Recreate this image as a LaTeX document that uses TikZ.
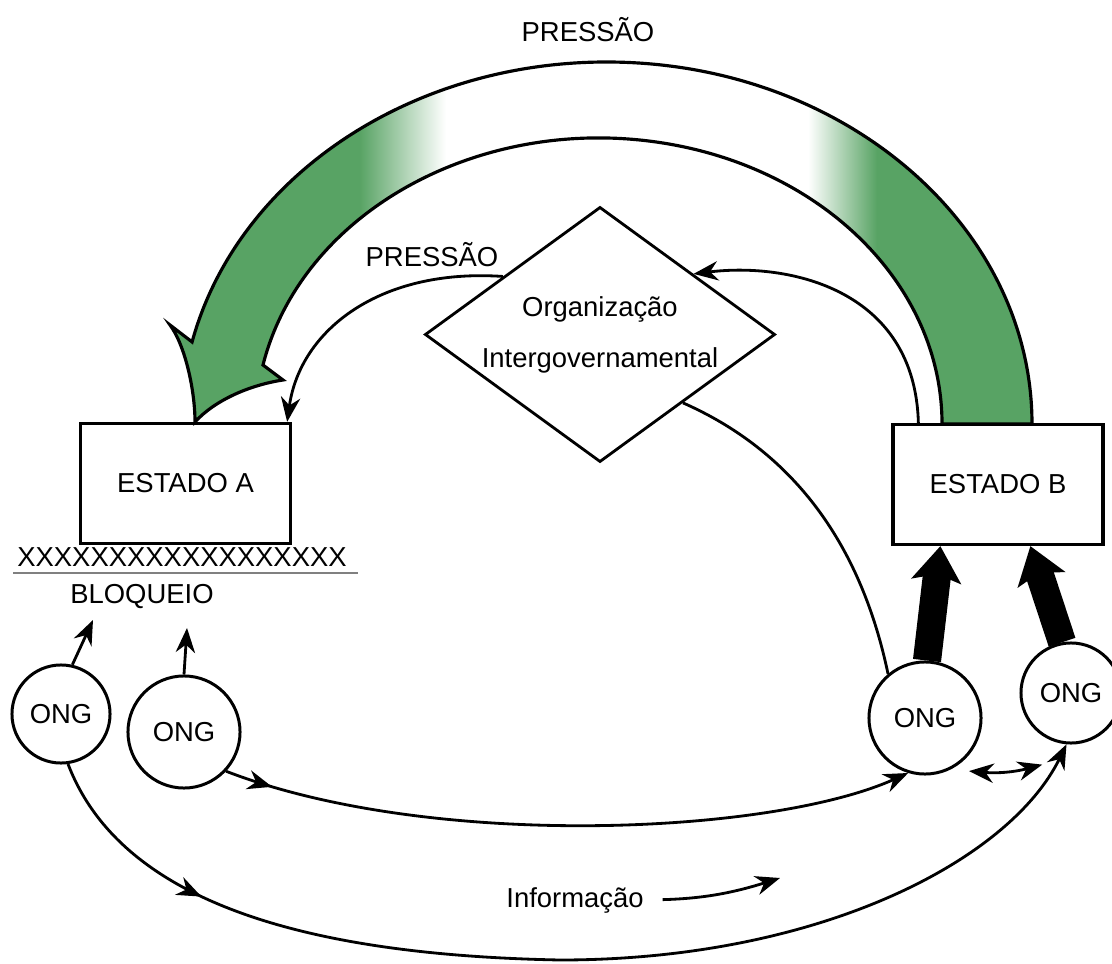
\documentclass[tikz,border=0pt]{standalone}
\usepackage{fontspec}
\setmainfont{Liberation Sans}
\usetikzlibrary{arrows.meta,shapes.geometric,calc,decorations.markings}
\definecolor{bandgreen}{RGB}{88,163,100}
\pgfdeclarehorizontalshading{bandfade}{100bp}{color(0bp)=(bandgreen); color(36bp)=(bandgreen); color(41bp)=(white); color(62bp)=(white); color(66bp)=(bandgreen); color(100bp)=(bandgreen)}
\tikzset{midarr/.style={postaction={decorate},decoration={markings,mark=at position #1 with {\arrow{Stealth[length=7pt,width=5.5pt]}}}}}

\begin{document}
\begin{tikzpicture}[x=0.01cm,y=-0.01cm,line width=0.8pt,font=\fontsize{7.8}{9.4}\selectfont]
\tikzstyle{every node}=[inner sep=1pt]
\tikzstyle{box}=[draw,rectangle,line width=0.9pt,minimum width=2.1cm,minimum height=1.2cm]
\tikzstyle{ong}=[draw,circle,line width=0.85pt,inner sep=0pt]
\tikzstyle{arr}=[-{Stealth[length=7pt,width=5.5pt]}]
\tikzstyle{bigarr}=[line width=8pt,-{Stealth[length=10pt,width=14pt,inset=2pt]}]
\fill[white] (0,0) rectangle (1112,964);
\useasboundingbox (0,0) rectangle (1112,964);
\shadedraw[shading=bandfade,line width=0.9pt]
  (1032,424) arc[start angle=0,end angle=-166.9,x radius=425.5,y radius=362]
  -- (170,325) .. controls (185,345) and (195,390) .. (195,422)
  .. controls (215,400) and (250,385) .. (283,380)
  -- (263,365) arc[start angle=-168.1,end angle=0,x radius=343.2,y radius=286]
  -- cycle;
\draw (185.5,483.5) node (estA) [box] {ESTADO A};
\draw (998,484.5) node (estB) [box] {ESTADO B};
\draw (600,334.5) node (org) [diamond,draw,aspect=1.37,inner sep=0pt,minimum width=3.5cm,minimum height=2.55cm,align=center,font=\fontsize{7.8}{14.5}\selectfont] {Organização\\Intergovernamental};
\draw (61,714) node (ongA1) [ong,minimum size=0.98cm] {ONG};
\draw (184,732) node (ongA2) [ong,minimum size=1.12cm] {ONG};
\draw (925,718) node (ongB1) [ong,minimum size=1.12cm] {ONG};
\draw (1071,693) node (ongB2) [ong,minimum size=1cm] {ONG};
\draw (182,557) node (bloqx) {XXXXXXXXXXXXXXXXXX};
\draw (142,597) node (bloq) {BLOQUEIO};
\draw (588,30) node (presA) {PRESSÃO};
\draw (432,255) node (presB) {PRESSÃO};
\draw (575,900) node (info) {Informação};
\draw[gray,line width=0.4pt] (13,573) -- (358,573);
\coordinate (tipA1) at (93,620);
\coordinate (tipA2) at (187,628);
\coordinate (infotip) at (780,878);
\draw[arr] (ongA1.77) -- (tipA1);
\draw[arr] (ongA2.north) -- (tipA2);
\draw[bigarr] (ongB1.88) -- ($(estB.south west)+(49,0)$);
\draw[bigarr] (ongB2.100) -- ($(estB.south west)+(139,0)$);
\draw[arr] ($(org.west)!0.45!(org.north)$) .. controls (380,268) and (300,330) .. ($(estA.north east)+(-5,0)$);
\draw[arr] ($(estB.north west)+(27,0)$) .. controls (915,290) and (790,262) .. ($(org.north)!0.53!(org.east)$);
\draw ($(org.south)!0.47!(org.east)$) .. controls (790,450) and (860,540) .. (ongB1.130);
\draw[arr,midarr=0.07] (ongA2.-43) .. controls (430,850) and (770,835) .. (ongB1.-107);
\draw[arr,midarr=0.17] (ongA1.-82) .. controls (120,900) and (300,955) .. (560,960) .. controls (820,960) and (1010,860) .. (ongB2.-95);
\draw[{Stealth[length=7pt,width=5.5pt]}-{Stealth[length=7pt,width=5.5pt]}] ($(ongB1.-50)+(7,9)$) to[bend right=10] ($(ongB2.-120)+(-3,27)$);
\draw[arr,shorten <=4pt] (info.east) to[bend right=8] (infotip);
\end{tikzpicture}
\end{document}
